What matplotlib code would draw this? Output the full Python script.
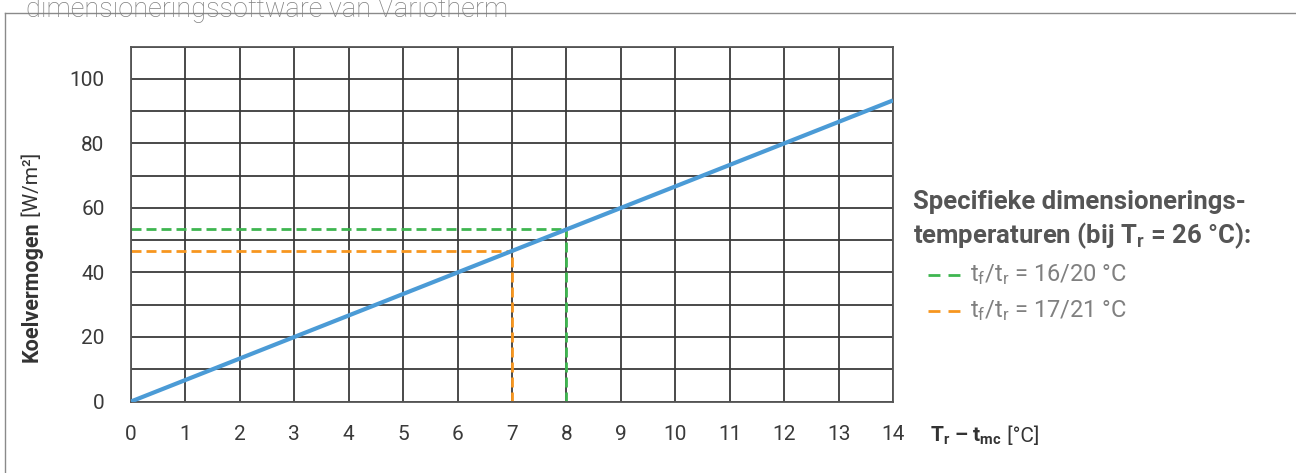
import numpy as np
import matplotlib.pyplot as plt
from matplotlib.lines import Line2D

plt.rcParams['font.family'] = ['Roboto', 'DejaVu Sans']
plt.rcParams['mathtext.fontset'] = 'custom'
plt.rcParams['mathtext.rm'] = 'Roboto'
plt.rcParams['mathtext.bf'] = 'Roboto:bold'
plt.rcParams['mathtext.it'] = 'Roboto'

# curve: Koelvermogen vs Tr - tmc
dT = [0, 14]
q = [0, 93.3]

# design points (dT, q) per supply/return temperature
design_labels = [r'$\mathrm{t_f/t_r}$ = 16/20 °C', r'$\mathrm{t_f/t_r}$ = 17/21 °C']
design_dT = [8, 7]
design_q = [53.3, 46.7]
design_colors = ['#3fb650', '#f7961f']

xticks = list(range(0, 15))
yticks = [0, 20, 40, 60, 80, 100]

W, H = 1296, 473
fig = plt.figure(figsize=(W / 100, H / 100), dpi=100)
ax = fig.add_axes([131 / W, 1 - 401.5 / H, (893 - 131) / W, (401.5 - 46.5) / H])

ax.set_xlim(0, 14)
ax.set_ylim(0, 110)
ax.set_xticks(xticks)
ax.set_yticks(yticks)
ax.set_yticks(np.arange(0, 111, 10), minor=True)
ax.grid(True, which='both', color='#3a3a3a', lw=1.3, zorder=1)
ax.set_axisbelow(True)
for s in ax.spines.values():
    s.set_color('#555555')
    s.set_linewidth(1.3)
ax.tick_params(which='both', length=0)
ax.tick_params(axis='y', pad=19, labelsize=15, labelcolor='#3a3a3a')
ax.tick_params(axis='x', pad=17, labelsize=15, labelcolor='#3a3a3a')

for x0, y0, c in zip(design_dT, design_q, design_colors):
    ax.plot([0, x0], [y0, y0], color=c, lw=2, ls=(0, (3.6, 1.8)), zorder=2)
    ax.plot([x0, x0], [0, y0], color=c, lw=2, ls=(0, (3.6, 1.8)), zorder=2)

ax.plot(dT, q, color='#4b9bd6', lw=3, zorder=3, solid_capstyle='butt')

# y label: bold part + unit
t1 = fig.text(32 / W, 1 - 292 / H, 'Koelvermogen', rotation=90, ha='center', va='center',
              fontsize=15.5, fontweight='bold', color='#333333')
ax.annotate(' [W/m²]', xy=(0.5, 1), xycoords=t1, rotation=90, ha='center', va='bottom',
            fontsize=15, color='#333333', annotation_clip=False)

# x label
t2 = fig.text(930 / W, 1 - 436 / H, r'$\mathbf{T_r}$ – $\mathbf{t_{mc}}$', ha='left', va='center',
              fontsize=15, fontweight='bold', color='#333333')
ax.annotate(' [°C]', xy=(1, 0.5), xycoords=t2, ha='left', va='center',
            fontsize=15, color='#333333', annotation_clip=False)

# legend block
fig.text(913 / W, 1 - 202 / H, 'Specifieke dimensionerings-', ha='left', va='center',
         fontsize=18.5, fontweight='bold', color='#555555')
fig.text(913 / W, 1 - 236 / H, r'temperaturen (bij $\mathbf{T_r}$ = 26 °C):', ha='left', va='center',
         fontsize=18.5, fontweight='bold', color='#555555')
for i, (lab, c) in enumerate(zip(design_labels, design_colors)):
    yy = 1 - (275 + 36 * i) / H
    fig.add_artist(Line2D([928 / W, 961 / W], [yy, yy], color=c, lw=2, ls=(0, (4.3, 2.9))))
    fig.text(970 / W, yy, lab, ha='left', va='center', fontsize=17, color='#808080')

# outer frame and cut-off header
fig.add_artist(Line2D([5 / W, 1], [1 - 13 / H, 1 - 13 / H], color='#8a8a8a', lw=1))
fig.add_artist(Line2D([5 / W, 5 / W], [0, 1 - 13 / H], color='#8a8a8a', lw=1))
fig.text(26 / W, 1 - 17 / H, 'dimensioneringssoftware van Variotherm', ha='left', va='baseline',
         fontsize=19.5, fontweight='light', color='#808080')

fig.savefig('out.png', dpi=100)
